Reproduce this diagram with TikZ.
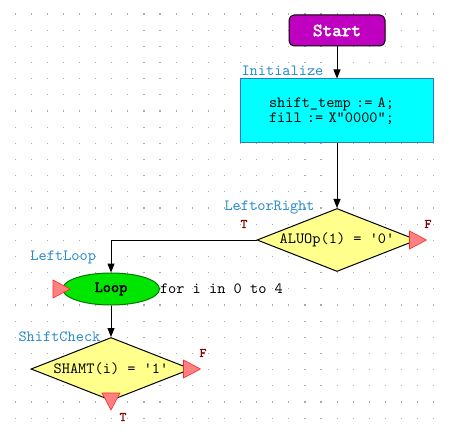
\documentclass[tikz,border=0pt]{standalone}
\usepackage{fontspec}
\setmonofont{lmmono10-regular.otf}[BoldFont=lmmono10-regular.otf,BoldFeatures={FakeBold=2.5}]
\usepackage{tikz}
\usetikzlibrary{arrows.meta, shapes.geometric, positioning}
\definecolor{startfill}{RGB}{192,0,192}
\definecolor{initfill}{RGB}{0,255,255}
\definecolor{initline}{RGB}{50,120,190}
\definecolor{condfill}{RGB}{255,255,140}
\definecolor{loopfill}{RGB}{0,230,0}
\definecolor{loopline}{RGB}{0,120,0}
\definecolor{lblblue}{RGB}{40,140,205}
\definecolor{tfred}{RGB}{130,0,0}
\definecolor{dotgray}{RGB}{170,170,170}

\begin{document}
\begin{tikzpicture}[x=1pt,y=-1pt,>={Triangle[width=7pt,length=9pt]},line width=1pt,
	font=\ttfamily\fontsize{15.6}{14.5}\selectfont,
	startbox/.style={draw=black,fill=startfill,rounded corners=5pt,minimum width=96pt,minimum height=31pt,text=white,font=\ttfamily\bfseries\fontsize{18.3}{18}\selectfont},
	initbox/.style={draw=initline,fill=initfill,minimum width=193pt,minimum height=64pt,text width=136pt,align=left},
	decision/.style={diamond,draw=black,fill=condfill,minimum width=160pt,minimum height=63pt,inner sep=0pt,shape aspect=2.5},
	loopnode/.style={ellipse,draw=loopline,fill=loopfill,minimum width=97pt,minimum height=32pt,inner sep=0pt,font=\ttfamily\bfseries\fontsize{15.6}{15}\selectfont},
	lbl/.style={anchor=west,inner sep=0pt,text=lblblue},
	tf/.style={inner sep=0pt,text=tfred,font=\ttfamily\bfseries\fontsize{13}{13}\selectfont},
	redtip/.style={draw=red!85,fill=red!50,line width=0.6pt}]
	\useasboundingbox (0,0) rectangle (450,433);
	\foreach \i in {0,...,26}{\foreach \j in {0,...,25}{\fill[dotgray] ({14.5+16.1*\i},{13.5+16.16*\j}) rectangle ++(1.2,1.2);}}

	\node[startbox] (start) at (337,30.5) {Start};
	\node[initbox] (init) at (337,111) {shift\_temp := A;\\fill := X"0000";};
	\node[decision] (leftright) at (337,240) {ALUOp(1) = \textquotesingle0\textquotesingle};
	\node[loopnode] (leftloop) at (111,289) {Loop};
	\node[anchor=west,inner sep=0pt] (range) at (159.5,289) {for i in 0 to 4};
	\node[decision] (shiftcheck) at (111,369) {SHAMT(i) = \textquotesingle1\textquotesingle};

	\node[lbl] (initlbl) at (241,71) {Initialize}; \node[lbl] (leftrightlbl) at (224,207) {LeftorRight}; \node[lbl] (leftlooplbl) at (30,257) {LeftLoop}; \node[lbl] (shiftchecklbl) at (18,337) {ShiftCheck};
	\node[tf] (lrf) at (428,224) {F}; \node[tf] (lrt) at (244,224) {T}; \node[tf] (scf) at (203,353) {F}; \node[tf] (sct) at (123,417) {T};

	\draw[->] (start) -- (init); \draw[->] (init) -- (leftright); \draw[->] (leftright.west) -| (leftloop.north); \draw[->] (leftloop) -- (shiftcheck);

	\draw[redtip] ([xshift=-8pt]leftright.east) -- ++(0,-9) -- ++(17,9) -- ++(-17,9) -- cycle;
	\draw[redtip] ([xshift=-9pt]leftloop.west) -- ++(0,-9) -- ++(17,9) -- ++(-17,9) -- cycle;
	\draw[redtip] ([xshift=-8pt]shiftcheck.east) -- ++(0,-9) -- ++(17,9) -- ++(-17,9) -- cycle;
	\draw[redtip] ([yshift=8pt]shiftcheck.south) -- ++(-9,0) -- ++(9,17) -- ++(9,-17) -- cycle;
\end{tikzpicture}
\end{document}
